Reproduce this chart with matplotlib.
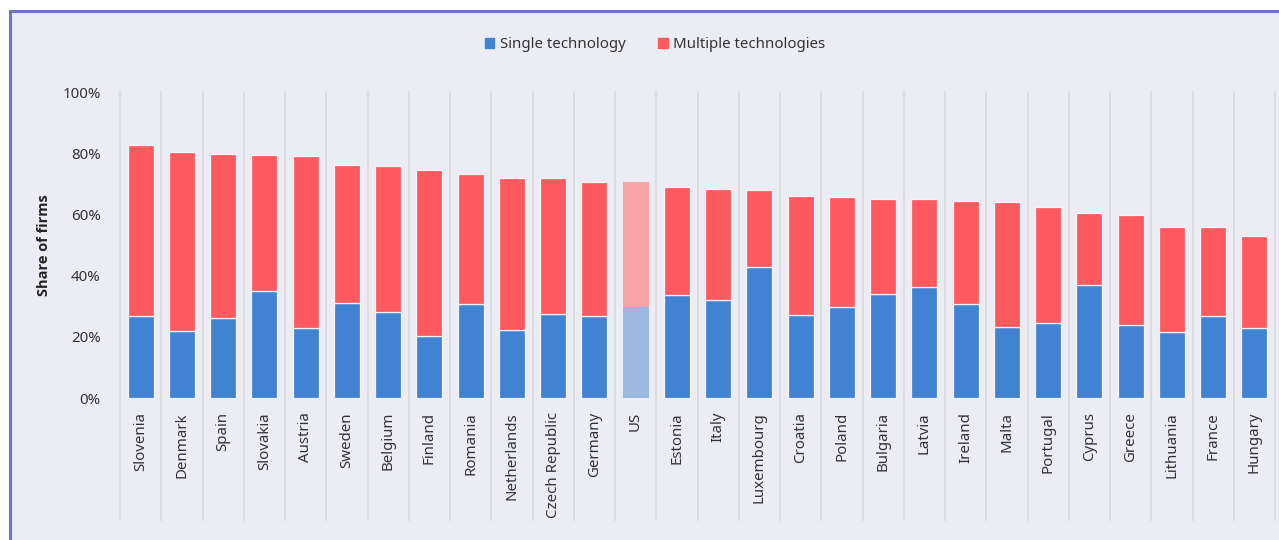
import matplotlib.pyplot as plt
from matplotlib.patches import Rectangle, Patch

# Share of firms using AI-type technologies, by country
countries = ['Slovenia', 'Denmark', 'Spain', 'Slovakia', 'Austria', 'Sweden', 'Belgium',
             'Finland', 'Romania', 'Netherlands', 'Czech Republic', 'Germany', 'US',
             'Estonia', 'Italy', 'Luxembourg', 'Croatia', 'Poland', 'Bulgaria', 'Latvia',
             'Ireland', 'Malta', 'Portugal', 'Cyprus', 'Greece', 'Lithuania', 'France',
             'Hungary']
# total share (top of bar) and single technology share (blue part), in %
total = [82.7, 80.4, 79.6, 79.3, 79.2, 76.1, 75.7, 74.6, 73.1, 72.0, 71.8, 70.7, 70.7,
         69.0, 68.3, 67.9, 66.0, 65.6, 65.0, 65.0, 64.3, 64.1, 62.4, 60.4, 59.7, 56.0,
         55.9, 52.9]
single = [26.8, 22.0, 26.0, 35.1, 22.8, 30.9, 28.1, 20.3, 30.7, 22.1, 27.5, 26.8, 29.7,
          33.7, 31.9, 42.7, 27.1, 29.7, 33.9, 36.2, 30.7, 23.2, 24.4, 36.8, 23.7, 21.5,
          26.8, 22.8]
multiple = [t - s for t, s in zip(total, single)]

BLUE, RED = '#4282d3', '#ff5a5f'
BLUE_US, RED_US = '#9bb9e0', '#f9a5a8'
BG = '#ececf4'

plt.rcParams['font.family'] = ['Noto Sans', 'DejaVu Sans']

fig = plt.figure(figsize=(12.79, 5.4), dpi=100)
fig.patch.set_facecolor('white')
# framed panel, kept behind the axes
fig.patches.append(Rectangle((10 / 1279, -0.05), 1.05, 1.05 - 11 / 540, transform=fig.transFigure,
                             facecolor=BG, edgecolor='#7474c4', linewidth=2.2, zorder=-10))

ax = fig.add_axes([120 / 1279, 1 - 398 / 540, 1155 / 1279, 306 / 540])
ax.set_facecolor('none')
ax.set_zorder(5)

x = list(range(len(countries)))
blue_c = [BLUE_US if c == 'US' else BLUE for c in countries]
red_c = [RED_US if c == 'US' else RED for c in countries]
edge = ['none' if c == 'US' else '#f4f4fa' for c in countries]

ax.bar(x, single, width=0.63, color=blue_c, edgecolor=edge, linewidth=0.9, zorder=3)
ax.bar(x, multiple, bottom=single, width=0.63, color=red_c, edgecolor=edge,
       linewidth=0.9, zorder=3)

# category separators running down through the label area
for i in range(len(countries) + 1):
    ax.axvline(i - 0.5, ymin=-0.40, ymax=1.0, color='#dcdcdc', linewidth=1.3,
               clip_on=False, zorder=1)

ax.set_xlim(-0.5, len(countries) - 0.5)
ax.set_ylim(0, 100)
ax.set_yticks([0, 20, 40, 60, 80, 100])
ax.set_yticklabels(['0%', '20%', '40%', '60%', '80%', '100%'])
ax.set_xticks(x)
ax.set_xticklabels(countries, rotation=90, va='top', ha='center')
ax.tick_params(axis='both', length=0, labelsize=10.8, colors='#333333')
ax.tick_params(axis='x', pad=10)
ax.tick_params(axis='y', pad=14)
for s in ax.spines.values():
    s.set_visible(False)

ax.set_ylabel('Share of firms', fontsize=10.5, fontweight='bold', color='#222222',
              family=['Open Sans', 'DejaVu Sans'], labelpad=8)

handles = [Patch(color=BLUE, label='Single technology'),
           Patch(color=RED, label='Multiple technologies')]
fig.legend(handles=handles, loc='center', bbox_to_anchor=(655 / 1279, 1 - 45 / 540),
           ncol=2, frameon=False, fontsize=10.8, handlelength=0.65, handleheight=0.65,
           handletextpad=0.35, columnspacing=2.2, labelcolor='#333333')

fig.savefig('out.png', dpi=100)
